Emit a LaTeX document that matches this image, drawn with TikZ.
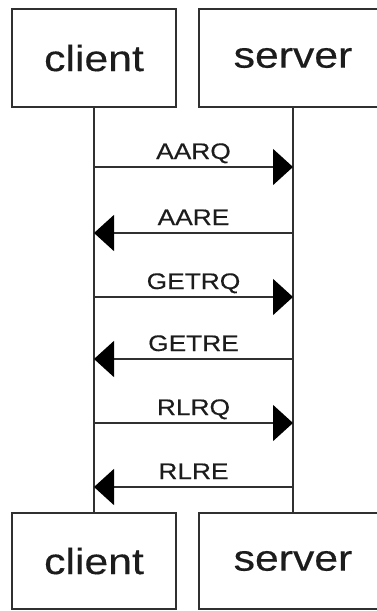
\documentclass[tikz,border=0pt]{standalone}
\usepackage{fontspec}
\setmainfont{Liberation Sans}
\newfontfamily\widesans[FakeStretch=1.17,FakeBold=0.4]{Liberation Sans}
\usetikzlibrary{arrows.meta}
\definecolor{ink}{HTML}{1C1C1C}
\definecolor{wire}{HTML}{303030}
\begin{document}
\begin{tikzpicture}[x=1pt,y=-1pt,
  actor/.style={draw=wire, line width=1.5pt, fill=white, minimum height=98pt,
    inner sep=0pt, font=\widesans\fontsize{36.5}{40}\selectfont, text=ink},
  lifeline/.style={draw=wire, line width=1.5pt},
  msg/.style={draw=wire, line width=1.5pt,
    -{Triangle[length=20pt,width=36pt,fill=black,color=black]}},
  msglabel/.style={font=\widesans\fontsize{22.5}{26}\selectfont, text=ink,
    anchor=base, inner sep=0pt, yshift=8pt}
]
\useasboundingbox (0,0) rectangle (377,611);
\begin{scope}
\clip (0,0) rectangle (377,611);
% participant boxes
\node[actor, minimum width=164pt] (ct) at (94,58) {client};
\node[actor, minimum width=188pt] (st) at (293,58) {server};
\node[actor, minimum width=164pt, minimum height=96pt] (cb) at (94,561) {client};
\node[actor, minimum width=188pt, minimum height=96pt] (sb) at (293,561) {server};
% lifelines
\draw[lifeline] (ct.south) -- (cb.north);
\draw[lifeline] (st.south) -- (sb.north);
% message anchors on the lifelines
\foreach \i/\y in {1/167,2/233,3/297,4/359,5/423,6/487}{
  \coordinate (c\i) at (94,\y);
  \coordinate (s\i) at (293,\y);
}
% messages
\draw[msg] (c1) -- (s1) node[msglabel, pos=0.5] {AARQ};
\draw[msg] (s2) -- (c2) node[msglabel, pos=0.5] {AARE};
\draw[msg] (c3) -- (s3) node[msglabel, pos=0.5] {GETRQ};
\draw[msg] (s4) -- (c4) node[msglabel, pos=0.5] {GETRE};
\draw[msg] (c5) -- (s5) node[msglabel, pos=0.5] {RLRQ};
\draw[msg] (s6) -- (c6) node[msglabel, pos=0.5] {RLRE};
\end{scope}
\end{tikzpicture}
\end{document}
